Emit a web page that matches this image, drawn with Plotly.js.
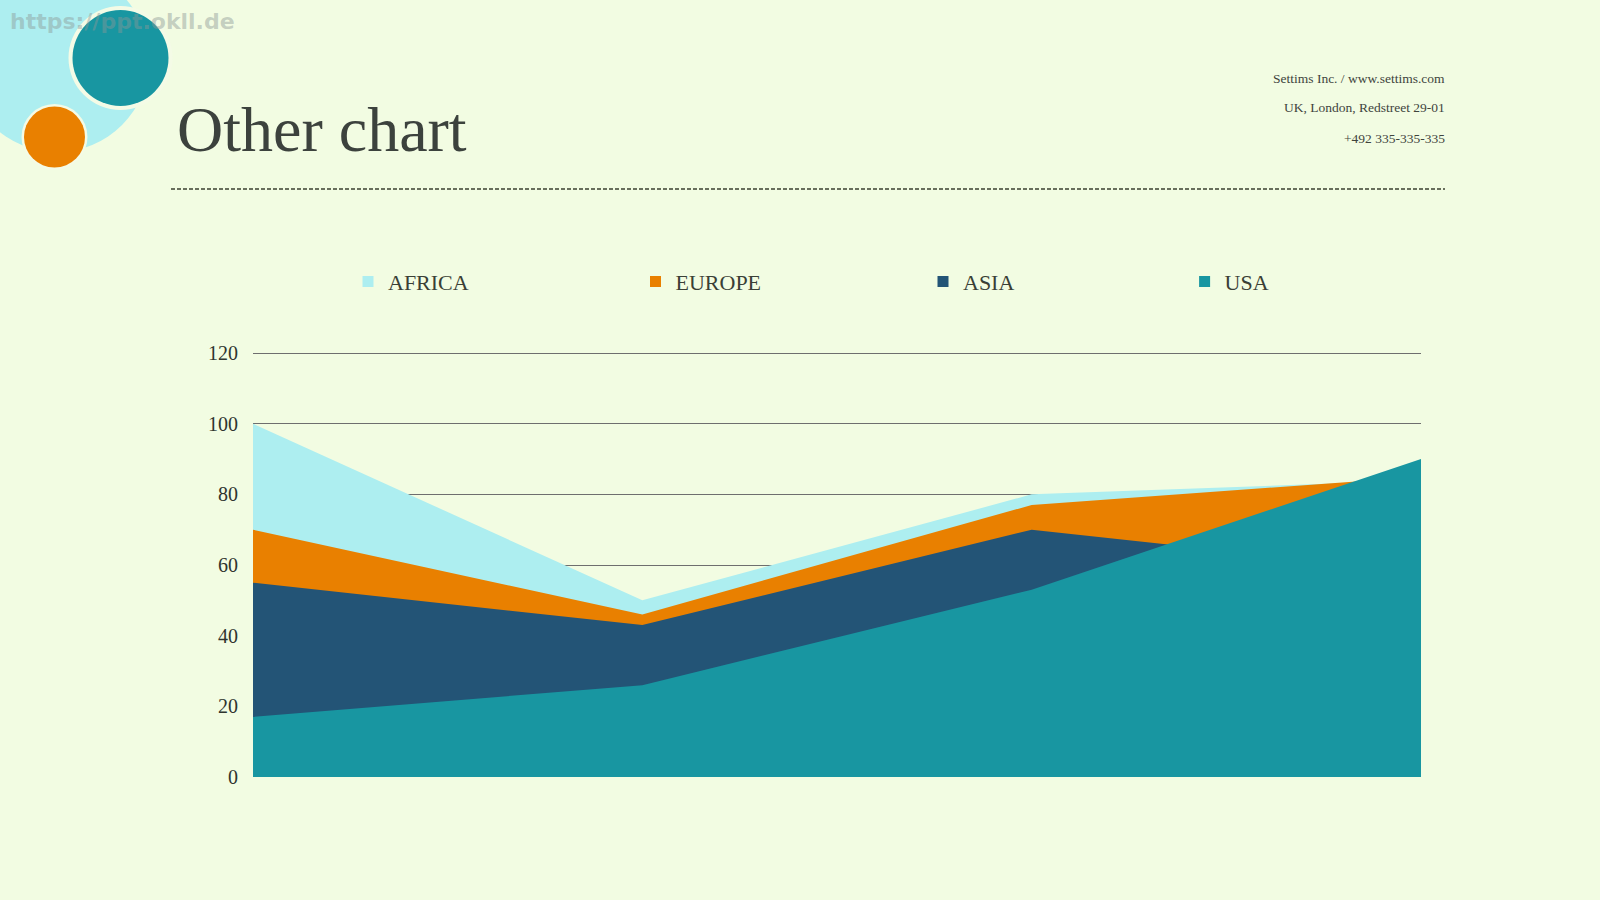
<!DOCTYPE html>
<html>
<head>
<meta charset="utf-8">
<script src="https://cdn.plot.ly/plotly-3.0.1.min.js"></script>
<style>
  html, body { margin: 0; padding: 0; background: #f2fce2; }
  #chart { width: 1600px; height: 900px; }
</style>
</head>
<body>
<div id="chart"></div>
<script>
// Regional values per period (overlapping area chart, drawn back to front)
const categories = ['Q1', 'Q2', 'Q3', 'Q4'];
const africa = [100, 50, 80, 84];
const europe = [70, 46, 77, 85];
const asia   = [55, 43, 70, 58];
const usa    = [17, 26, 53, 90];
const seriesNames = ['AFRICA', 'EUROPE', 'ASIA', 'USA'];
const yTickValues = [0, 20, 40, 60, 80, 100, 120];

const BG = '#f2fce2';
const colors = {
  AFRICA: '#adeef0',
  EUROPE: '#e98000',
  ASIA:   '#235476',
  USA:    '#1896a1'
};

// Plot box in page pixels (a little headroom above 120 keeps its gridline)
const L = 253, R = 1421, T = 352, B = 777;
const W = 1600, H = 900;
const Y_MAX = 120.3;
const px = x => (x - L) / (R - L);
const py = y => (B - y) / (B - T);

const seriesValues = [africa, europe, asia, usa];
const legendIds = ['legend', 'legend2', 'legend3', 'legend4'];

const traces = [];
seriesNames.forEach((name, i) => {
  traces.push({
    type: 'scatter',
    x: categories,
    y: seriesValues[i],
    mode: 'lines',
    fill: 'tozeroy',
    fillcolor: colors[name],
    line: { width: 0, color: colors[name] },
    name: name,
    legendgroup: name,
    showlegend: false,
    hoverinfo: 'skip'
  });
});
// square swatches for the legend entries
seriesNames.forEach((name, i) => {
  traces.push({
    type: 'scatter',
    x: [null],
    y: [null],
    mode: 'markers',
    marker: { symbol: 'square', size: 11, color: colors[name], line: { width: 0 } },
    name: name,
    legendgroup: name,
    legend: legendIds[i],
    showlegend: true,
    hoverinfo: 'skip'
  });
});

const legendCenters = [371, 658.5, 946, 1207.6];
const legendFont = { family: 'Liberation Serif, serif', size: 22, color: '#3a3f36' };
const layout = {
  width: W,
  height: H,
  paper_bgcolor: BG,
  plot_bgcolor: BG,
  margin: { l: L, r: W - R, t: T, b: H - B, pad: 0 },
  hovermode: false,
  xaxis: {
    type: 'category',
    range: [0, categories.length - 1],
    showticklabels: false,
    showgrid: false,
    zeroline: false,
    showline: false,
    ticks: ''
  },
  yaxis: {
    range: [0, Y_MAX],
    tickvals: yTickValues,
    ticktext: yTickValues.map(String),
    showgrid: true,
    gridcolor: '#6e6e6e',
    gridwidth: 1,
    zeroline: false,
    showline: false,
    ticks: '',
    ticklabelstandoff: 14,
    tickfont: { family: 'Liberation Serif, serif', size: 20, color: '#2f352f' }
  },
  shapes: [
    { type: 'circle', xref: 'paper', yref: 'paper', layer: 'above',
      x0: px(57 - 92), x1: px(57 + 92), y0: py(60 + 92), y1: py(60 - 92),
      fillcolor: '#adeef0', line: { width: 0 } },
    { type: 'circle', xref: 'paper', yref: 'paper',
      x0: px(120.5 - 52), x1: px(120.5 + 52), y0: py(58 + 52), y1: py(58 - 52),
      fillcolor: '#f4fbe6', line: { width: 0 } },
    { type: 'circle', xref: 'paper', yref: 'paper',
      x0: px(120.5 - 48), x1: px(120.5 + 48), y0: py(58 + 48), y1: py(58 - 48),
      fillcolor: '#1896a1', line: { width: 0 } },
    { type: 'circle', xref: 'paper', yref: 'paper',
      x0: px(54.5 - 33), x1: px(54.5 + 33), y0: py(137 + 33), y1: py(137 - 33),
      fillcolor: '#f4fbe6', line: { width: 0 } },
    { type: 'circle', xref: 'paper', yref: 'paper',
      x0: px(54.5 - 30.5), x1: px(54.5 + 30.5), y0: py(137 + 30.5), y1: py(137 - 30.5),
      fillcolor: '#e98000', line: { width: 0 } },
    { type: 'line', xref: 'paper', yref: 'paper',
      x0: px(171), x1: px(1445), y0: py(189), y1: py(189),
      line: { color: '#3b3f30', width: 1.5, dash: '4px,2px' } }
  ],
  annotations: [
    { text: 'Other chart', xref: 'paper', yref: 'paper', x: px(175), y: py(129),
      xanchor: 'left', yanchor: 'middle', showarrow: false,
      font: { family: 'Liberation Serif, serif', size: 64, color: '#3c423d' } },
    { text: 'Settims Inc. / www.settims.com', xref: 'paper', yref: 'paper', x: px(1447), y: py(78),
      xanchor: 'right', yanchor: 'middle', showarrow: false,
      font: { family: 'Liberation Serif, serif', size: 13.5, color: '#3f443d' } },
    { text: 'UK, London, Redstreet 29-01', xref: 'paper', yref: 'paper', x: px(1447), y: py(108),
      xanchor: 'right', yanchor: 'middle', showarrow: false,
      font: { family: 'Liberation Serif, serif', size: 13.5, color: '#3f443d' } },
    { text: '+492 335-335-335', xref: 'paper', yref: 'paper', x: px(1447), y: py(138),
      xanchor: 'right', yanchor: 'middle', showarrow: false,
      font: { family: 'Liberation Serif, serif', size: 13.5, color: '#3f443d' } },
    { text: 'https://ppt.okll.de', xref: 'paper', yref: 'paper', x: px(8), y: py(21),
      xanchor: 'left', yanchor: 'middle', showarrow: false,
      font: { family: 'DejaVu Sans, sans-serif', size: 22, weight: 700, color: 'rgba(140,152,150,0.45)' } }
  ]
};

legendIds.forEach((id, i) => {
  layout[id] = {
    xref: 'container', yref: 'container',
    x: (legendCenters[i] - 23) / W,
    y: 1 - 281.6 / H,
    xanchor: 'left', yanchor: 'middle',
    orientation: 'h',
    bgcolor: 'rgba(0,0,0,0)',
    borderwidth: 0,
    font: legendFont
  };
});

Plotly.newPlot('chart', traces, layout, { displayModeBar: false, staticPlot: true });
</script>
</body>
</html>
